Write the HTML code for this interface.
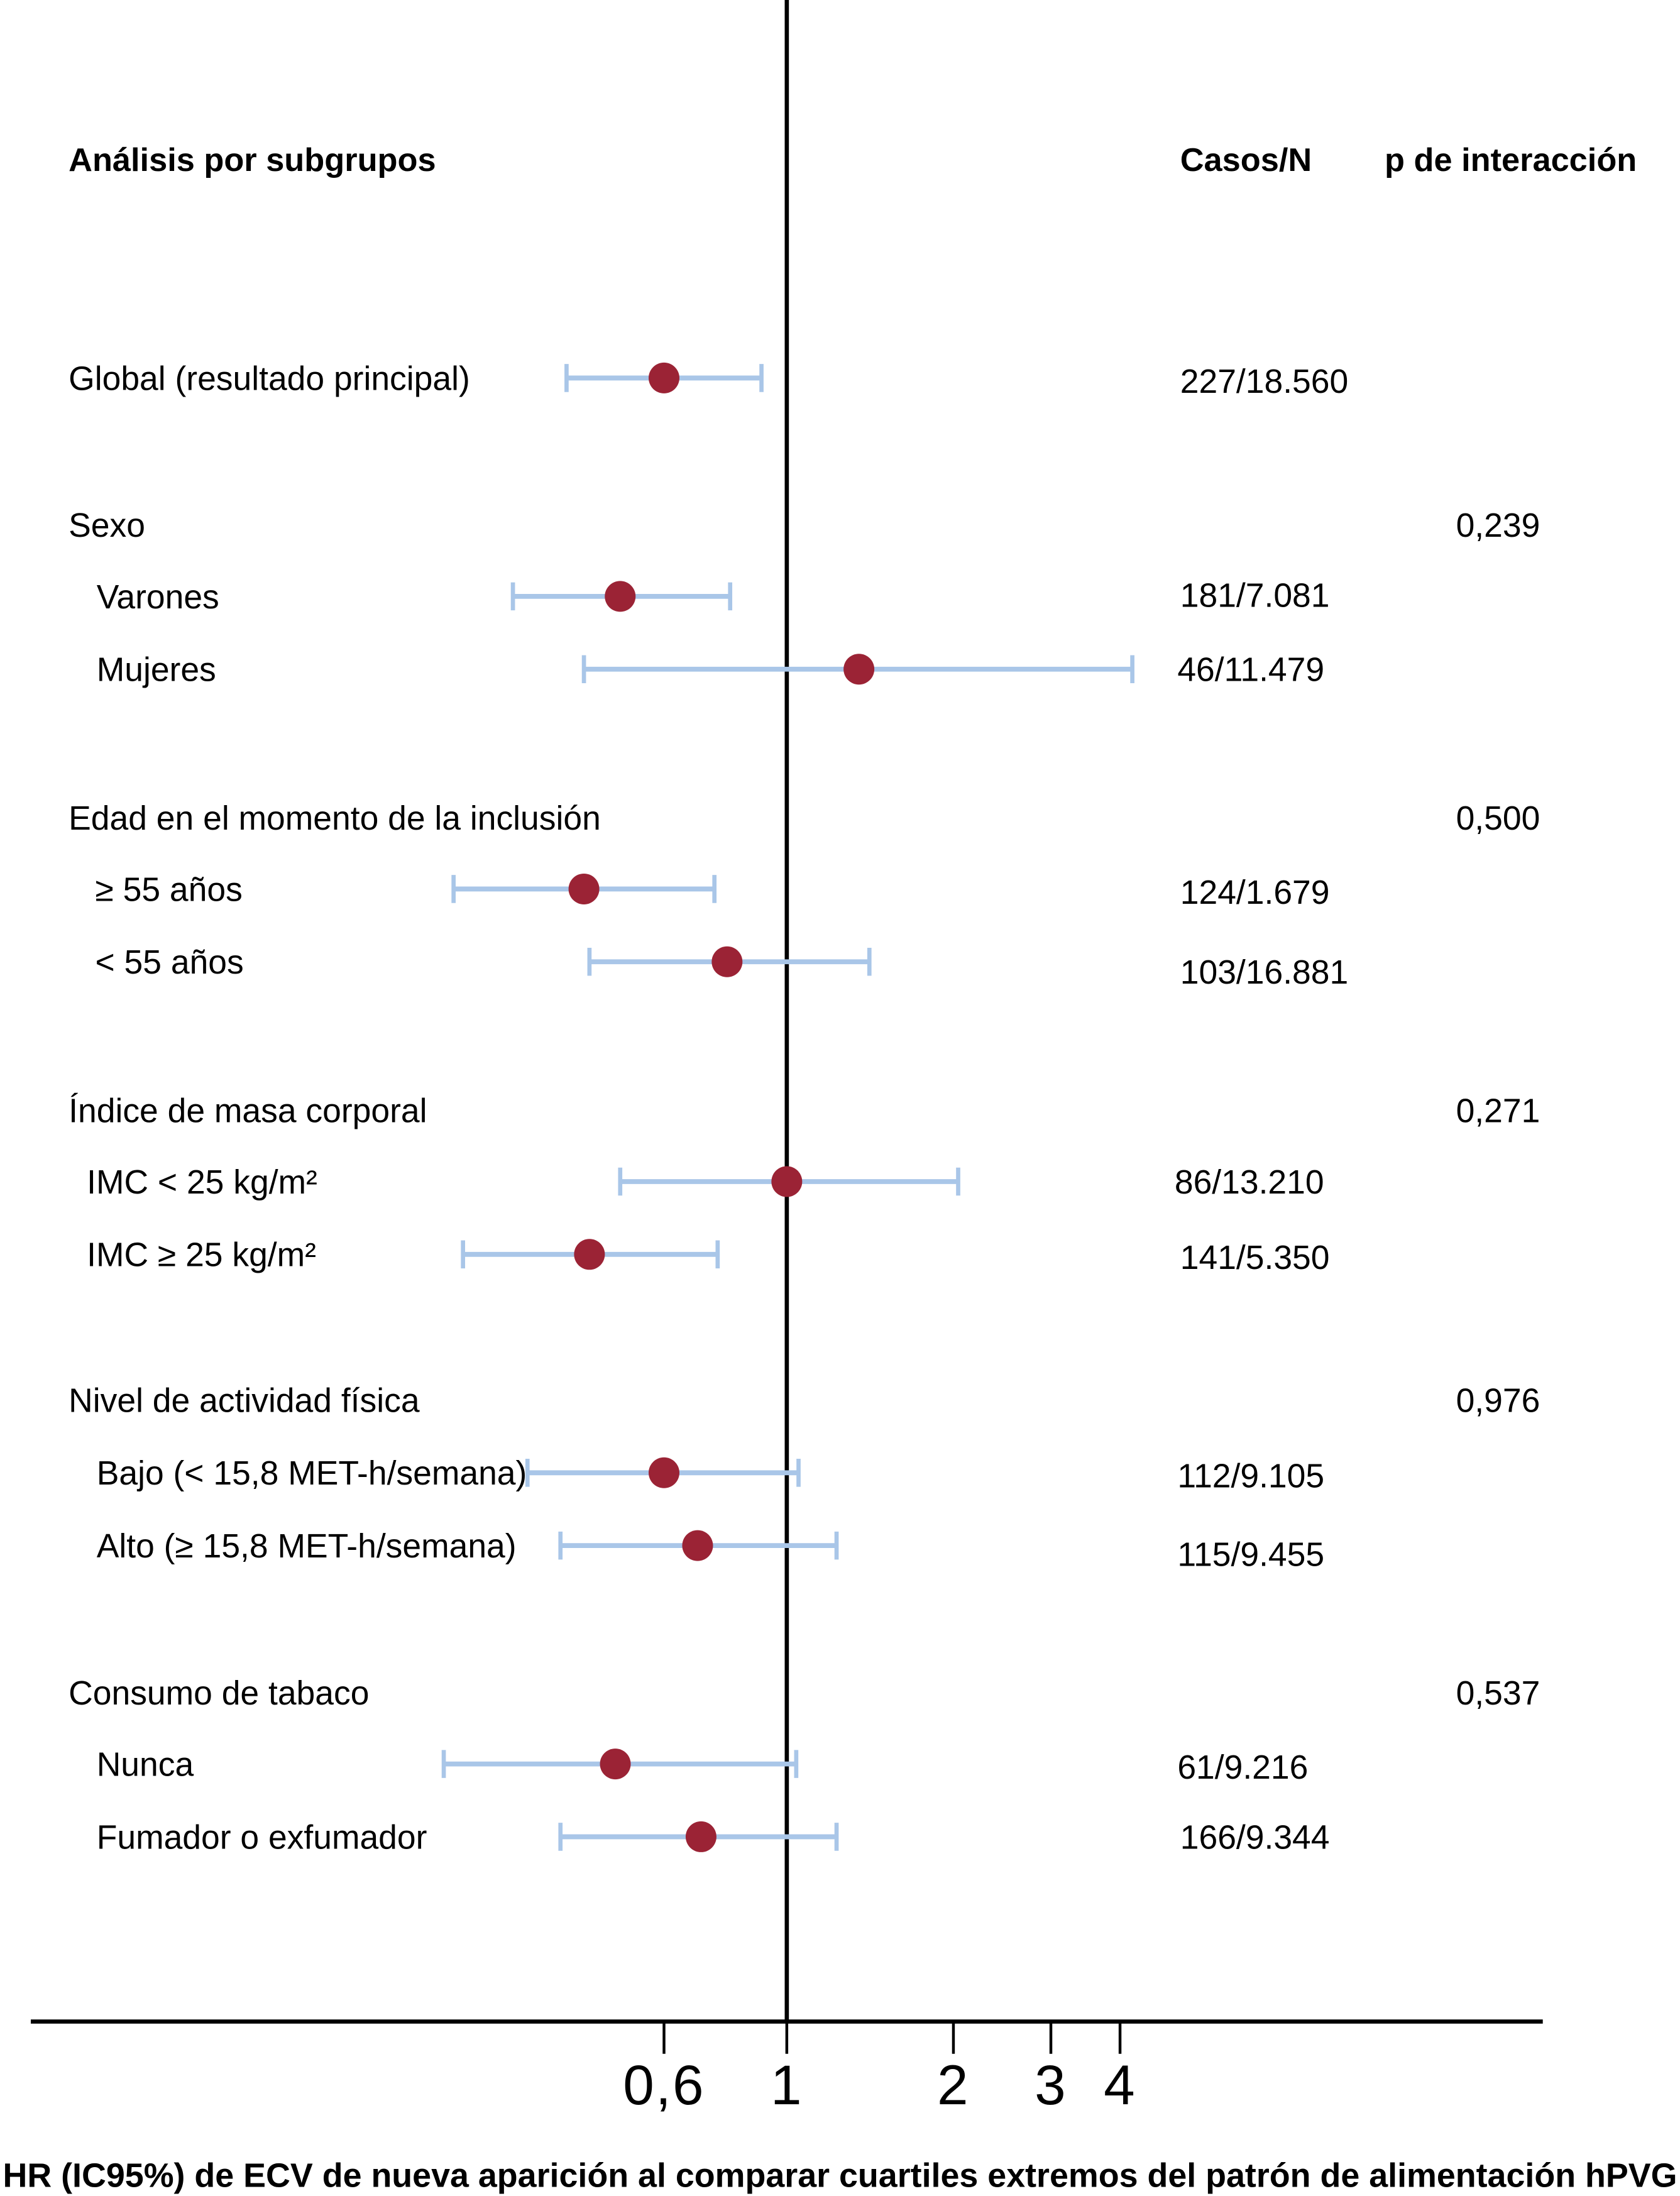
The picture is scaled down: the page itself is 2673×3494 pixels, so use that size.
<!DOCTYPE html>
<html><head><meta charset="utf-8"><style>
html,body{margin:0;padding:0;background:#fff;}
svg{display:block;}
text{font-family:"Liberation Sans",Arial,sans-serif;fill:#000;}
</style></head><body>
<svg id="chart" width="2673" height="3494" viewBox="0 0 1200 1568.6" xmlns="http://www.w3.org/2000/svg">
<g id="content"></g>
</svg>
<script>
const labels = ["Global (resultado principal)","Sexo","Varones","Mujeres","Edad en el momento de la inclusión","≥ 55 años","< 55 años","Índice de masa corporal","IMC < 25 kg/m²","IMC ≥ 25 kg/m²","Nivel de actividad física","Bajo (< 15,8 MET-h/semana)","Alto (≥ 15,8 MET-h/semana)","Consumo de tabaco","Nunca","Fumador o exfumador"];
const hr    = [0.60,null,0.50,1.35,null,0.43,0.78,null,1.00,0.44,null,0.60,0.69,null,0.49,0.70];
const lower = [0.40,null,0.32,0.43,null,0.25,0.44,null,0.50,0.26,null,0.34,0.39,null,0.24,0.39];
const upper = [0.90,null,0.79,4.21,null,0.74,1.41,null,2.04,0.75,null,1.05,1.23,null,1.04,1.23];
const cases = ["227/18.560","","181/7.081","46/11.479","","124/1.679","103/16.881","","86/13.210","141/5.350","","112/9.105","115/9.455","","61/9.216","166/9.344"];
const pvals = ["","0,239","","","0,500","","","0,271","","","0,976","","","0,537","",""];
const tickValues = [0.6,1,2,3,4];
const tickLabels = ["0,6","1","2","3","4"];

const rowY = [270,375,426,478,584,635,687,793,844,896,1000,1052,1104,1209,1260,1312];
const labelX = [49,49,69,69,49,68,68,49,62,62,49,69,69,49,69,69];
const caseY = [272,375,425,478,584,637,694,793,844,898,1000,1054,1110,1209,1262,1312];
const caseX = [843,843,843,841,843,843,843,843,839,843,843,841,841,843,841,843];

function xScale(v){ return 562 + Math.log(v)*171.7; }
const NS="http://www.w3.org/2000/svg";
const g=document.getElementById('content');
function el(tag,attrs,txt){const e=document.createElementNS(NS,tag);for(const k in attrs)e.setAttribute(k,attrs[k]);if(txt!==undefined)e.textContent=txt;g.appendChild(e);return e;}

let h=el('text',{x:49,y:122,'font-size':23.5,'font-weight':'bold'},'Análisis por subgrupos');


h=el('text',{x:843,y:122,'font-size':23.5,'font-weight':'bold'},'Casos/N');


h=el('text',{x:989,y:122,'font-size':23.5,'font-weight':'bold'},'p de interacción');



let rl=el('line',{x1:562,y1:0,x2:562,y2:1444,stroke:'#000','stroke-width':3});



labels.forEach((lab,i)=>{
  const y=rowY[i];
  let t=el('text',{x:labelX[i],y:y+8.5,'font-size':24},lab);
  
  
  if(hr[i]!==null){
    const x1=xScale(lower[i]),x2=xScale(upper[i]),xp=xScale(hr[i]);
    let l=el('line',{x1:x1,y1:y,x2:x2,y2:y,stroke:'#a9c6e8','stroke-width':3.5});
    
    
    let c1=el('line',{x1:x1,y1:y-10,x2:x1,y2:y+10,stroke:'#a9c6e8','stroke-width':3});
    
    
    let c2=el('line',{x1:x2,y1:y-10,x2:x2,y2:y+10,stroke:'#a9c6e8','stroke-width':3});
    
    
    let d=el('circle',{cx:xp,cy:y,r:11,fill:'#9b2335'});
    
    
  }
  if(cases[i]){
    let c=el('text',{x:caseX[i],y:caseY[i]+8.5,'font-size':24},cases[i]);
    
    
  }
  if(pvals[i]){
    let p=el('text',{x:1040,y:y+8.5,'font-size':24},pvals[i]);
    
    
  }
});

let ax=el('line',{x1:22,y1:1444,x2:1102,y2:1444,stroke:'#000','stroke-width':3});


tickValues.forEach((v,i)=>{
  const x=xScale(v);
  let tk=el('line',{x1:x,y1:1444,x2:x,y2:1467,stroke:'#000','stroke-width':2});
  
  
  let tl=el('text',{x:x,y:1503,'font-size':40,'text-anchor':'middle','letter-spacing':1},tickLabels[i]);
  
  
});
let xt=el('text',{x:600,y:1562,'font-size':24,'font-weight':'bold','text-anchor':'middle',textLength:1196,lengthAdjust:'spacingAndGlyphs'},'HR (IC95%) de ECV de nueva aparición al comparar cuartiles extremos del patrón de alimentación hPVG');


</script>
</body></html>
